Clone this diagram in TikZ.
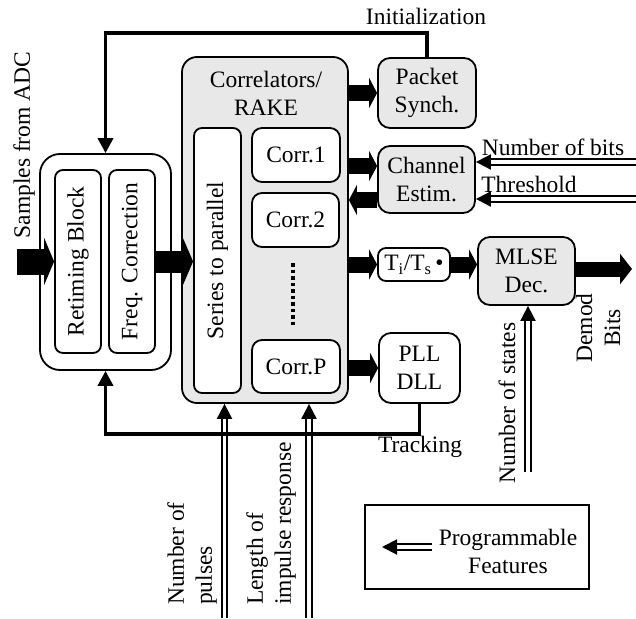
\documentclass[tikz,border=0pt]{standalone}
\usepackage{fontspec}
\setmainfont{Liberation Serif}
\usetikzlibrary{arrows.meta}
\begin{document}
\begin{tikzpicture}[x=1pt,y=-1pt,
  every node/.style={font=\fontsize{23.5}{28}\selectfont},
  blk/.style={draw, line width=1.8pt, rounded corners=10pt, inner sep=0pt, align=center, fill=white},
  gblk/.style={blk, fill=black!9},
  fatA/.style={line width=16pt, -{Triangle[length=8pt,width=30pt]}},
  thinA/.style={line width=3.5pt, -{Triangle[length=15pt,width=15pt]}},
  prog/.style={double, double distance=3.5pt, line width=2pt, -{Triangle[length=15pt,width=15pt]}},
  rtext/.style={rotate=90, inner sep=0pt},
]
\useasboundingbox (0,0) rectangle (636,618);

% Retiming / frequency correction
\node[blk, rounded corners=20pt, minimum width=131pt, minimum height=216pt] (outer) at (105.5,262) {};
\node[blk, rounded corners=8pt, minimum width=46pt, minimum height=183pt] (retime) at (78,261.5) {};
\node[rtext] at (retime.center) {Retiming Block};
\node[blk, rounded corners=8pt, minimum width=46pt, minimum height=183pt] (freq) at (132,261.5) {};
\node[rtext] at (freq.center) {Freq. Correction};

% Correlators
\node[gblk, rounded corners=15pt, minimum width=166pt, minimum height=346pt] (corr) at (265,230) {};
\node[align=center] (corrlbl) at (266,93) {Correlators/\\RAKE};
\node[blk, rounded corners=8pt, minimum width=47pt, minimum height=265pt] (s2p) at (217.5,260.5) {};
\node[rtext] at (s2p.center) {Series to parallel};
\node[blk, minimum width=88pt, minimum height=54pt] (c1) at (296,155) {Corr.1};
\node[blk, minimum width=87pt, minimum height=54pt] (c2) at (295.5,220) {Corr.2};
\node[blk, minimum width=88pt, minimum height=53pt] (cP) at (296,366.5) {Corr.P};
\coordinate (dotA) at (293,263);
\coordinate (dotB) at (293,328);
\draw[line width=3.5pt, dash pattern=on 3.5pt off 3pt] (dotA) -- (dotB);

% Right blocks
\node[gblk, rounded corners=12pt, minimum width=98pt, minimum height=70pt] (packet) at (427,93) {Packet\\Synch.};
\node[gblk, rounded corners=12pt, minimum width=97pt, minimum height=67pt] (chan) at (426.5,179.5) {Channel\\Estim.};
\node[blk, rounded corners=8pt, minimum width=72pt, minimum height=33pt] (tits) at (414,264.5) {T\textsubscript{i}/T\textsubscript{s}\,•};
\node[gblk, rounded corners=12pt, minimum width=97pt, minimum height=68pt] (mlse) at (526.5,271) {MLSE\\Dec.};
\node[blk, rounded corners=12pt, minimum width=81pt, minimum height=70pt] (pll) at (419.5,368) {PLL\\DLL};

% Legend
\node[draw, line width=1.5pt, minimum width=224pt, minimum height=84pt, inner sep=0pt] (leg) at (477,547) {};
\node[align=center] (legtxt) at (508,551) {Programmable\\Features};

% Fat data arrows
\coordinate (inS) at (17,261.5);
\draw[line width=26pt, -{Triangle[length=10pt,width=47pt]}] (inS) -- (inS -| retime.west);
\draw[line width=22pt, -{Triangle[length=10pt,width=46pt]}] (freq.east) -- (freq.east -| s2p.west);
\draw[fatA] (corr.east |- packet.west) -- (packet.west);
\draw[fatA] ([yshift=13.5pt]chan.west -| corr.east) -- ([yshift=13.5pt]chan.west);
\draw[fatA] ([yshift=-20.5pt]chan.west) -- ([yshift=-20.5pt]chan.west -| corr.east);
\draw[fatA] (corr.east |- tits.west) -- (tits.west);
\draw[fatA] (tits.east) -- (tits.east -| mlse.west);
\coordinate (outE) at (632,269);
\draw[line width=15pt, -{Triangle[length=12pt,width=30pt]}] (mlse.east |- outE) -- (outE);
\draw[fatA] (corr.east |- pll.west) -- (pll.west);

% Programmable features (double arrows)
\coordinate (nbS) at (636,162);
\draw[prog] (nbS) -- (nbS -| chan.east);
\coordinate (thS) at (636,199);
\draw[prog] (thS) -- (thS -| chan.east);
\coordinate (puS) at (224.5,618);
\draw[prog] (puS) -- (puS |- corr.south);
\coordinate (leS) at (309,618);
\draw[prog] (leS) -- (leS |- corr.south);
\coordinate (stS) at (528,472);
\draw[prog] (stS) -- (stS |- mlse.south);
\coordinate (lgS) at (432,547);
\coordinate (lgE) at (382,547);
\draw[prog] (lgS) -- (lgE);

% Control loops
\coordinate (topL) at (105.5,33);
\draw[thinA] (packet.north) |- (topL) -- (outer.north);
\coordinate (botL) at (105.5,434);
\draw[thinA] (pll.south) |- (botL) -- (outer.south);

% Labels
\node (initlbl) at (426,16) {Initialization};
\node (nblbl) at (553,147) {Number of bits};
\node (thlbl) at (529,184) {Threshold};
\node[rotate=90] (adclbl) at (24,145) {Samples from ADC};
\node (trlbl) at (420,447) {Tracking};
\node[rotate=90] (stlbl) at (507,403) {Number of states};
\node[rotate=90, align=center] (demlbl) at (598,328) {Demod\\Bits};
\node[rtext, align=left, anchor=west] (pulbl) at (192,605) {Number of\\pulses};
\node[rtext, align=left, anchor=west] (lelbl) at (271,605) {Length of\\impulse response};
\end{tikzpicture}
\end{document}
